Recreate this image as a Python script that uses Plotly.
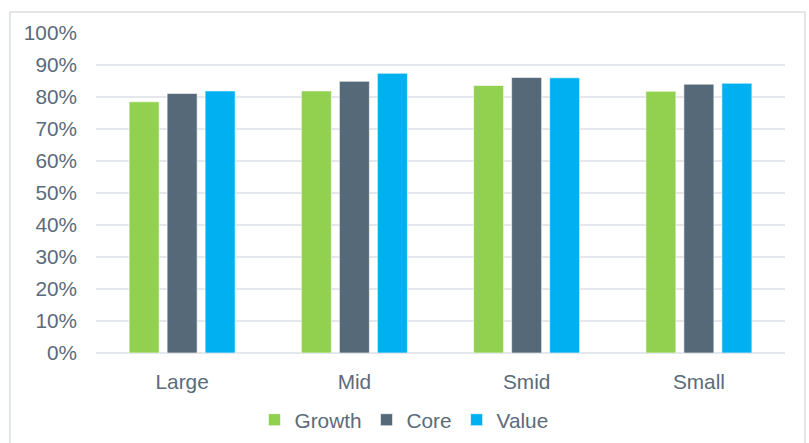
import plotly.graph_objects as go

categories = ["Large", "Mid", "Smid", "Small"]
growth = [0.785, 0.819, 0.836, 0.818]
core = [0.811, 0.849, 0.861, 0.840]
value = [0.819, 0.874, 0.860, 0.843]
series_names = ["Growth", "Core", "Value"]
colors = ["#92D050", "#566978", "#00B0F0"]

txt = "#5A6B7A"
grid = "#E4E7EB"
fs = 20.8

fig = go.Figure()
for name, vals, c in zip(series_names, [growth, core, value], colors):
    fig.add_trace(go.Bar(x=categories, y=vals, name=name, marker=dict(color=c, line=dict(color="rgba(255,255,255,0.6)", width=1))))

fig.update_layout(
    width=809, height=443,
    margin=dict(l=96, r=24, t=33, b=90, autoexpand=False),
    paper_bgcolor="white", plot_bgcolor="white",
    font=dict(family="Liberation Sans, Arial, sans-serif", size=fs, color=txt),
    barmode="group", bargap=0.338, bargroupgap=0.21,
    showlegend=True,
    legend=dict(orientation="h", x=0.447, xanchor="center", y=-0.21, yanchor="middle",
                font=dict(size=fs, color=txt), itemwidth=30, tracegroupgap=0),
    xaxis=dict(showgrid=False, showline=False, ticks="", tickfont=dict(size=fs, color=txt),
               ticklabelstandoff=14, automargin=False),
    yaxis=dict(range=[0, 1.0], dtick=0.1, tickformat=".0%", showgrid=True, gridcolor=grid, gridwidth=1.5,
               zeroline=True, zerolinecolor=grid, zerolinewidth=1.5, showline=False,
               tickfont=dict(size=fs, color=txt), ticklabelstandoff=18, automargin=False),
    shapes=[dict(type="rect", xref="paper", yref="paper", x0=-0.1248, x1=1.0290, y0=-0.35, y1=1.0656,
                 line=dict(color="#DADDE1", width=1.5), fillcolor="rgba(0,0,0,0)", layer="below")],
)

fig.write_html("out.html")
